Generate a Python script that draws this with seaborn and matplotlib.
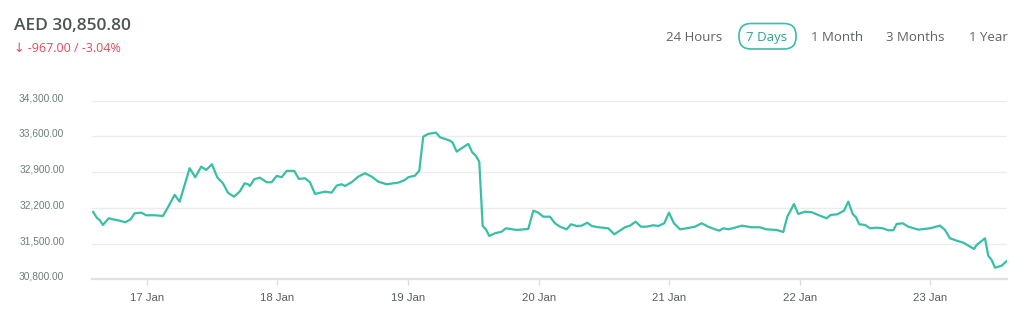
import matplotlib
matplotlib.use("Agg")
import matplotlib.pyplot as plt
import matplotlib.dates as mdates
import matplotlib.transforms as mtransforms
from matplotlib.patches import FancyBboxPatch
import numpy as np
import pandas as pd
import seaborn as sns

# ---- data: hours since 17 Jan 00:00 and price (AED) ----
hours = [
    -9.93, -9.14, -8.70, -8.09, -7.04, -6.25, -5.02, -3.99, -3.00, -2.26,
    -1.05, -0.13, 1.42, 2.94, 3.86, 5.09, 6.01, 6.93, 7.85, 8.88,
    9.98, 10.90, 11.95, 12.92, 13.97, 14.89, 15.99, 17.04, 17.96, 18.57,
    18.94, 19.73, 20.77, 22.01, 22.92, 23.84, 24.76, 25.68, 27.08, 27.94,
    29.05, 29.97, 30.89, 32.72, 33.95, 34.87, 35.79, 36.40, 37.63, 38.85,
    40.08, 41.31, 42.52, 44.07, 46.20, 47.43, 48.04, 49.27, 50.06, 50.79,
    51.71, 53.13, 53.87, 55.70, 56.20, 56.94, 57.85, 59.07, 59.80, 60.48,
    61.09, 61.72, 62.32, 62.93, 63.98, 65.21, 66.00, 67.96, 70.10, 71.02,
    71.94, 72.86, 74.09, 75.01, 75.93, 77.16, 77.95, 79.00, 79.92, 80.94,
    81.75, 82.97, 84.81, 85.91, 86.64, 87.88, 88.79, 89.84, 90.82, 91.86,
    93.08, 94.00, 95.10, 95.96, 96.88, 97.99, 99.22, 100.74, 101.98, 103.19,
    104.42, 105.21, 105.95, 106.87, 108.10, 109.33, 111.17, 112.69, 113.80, 115.76,
    116.98, 117.71, 118.21, 118.94, 119.73, 120.97, 122.20, 123.41, 124.95, 125.69,
    126.90, 128.14, 128.93, 129.74, 130.34, 130.95, 132.00, 132.92, 134.15, 135.25,
    136.28, 137.20, 137.82, 138.93, 139.96, 141.80, 143.95, 145.79, 146.70, 147.62,
    148.85, 150.07, 150.99, 152.04, 152.53, 154.06, 154.66, 155.29, 155.90, 157.13,
    158.05,
]
prices = [
    32125, 31996, 31963, 31865, 31996, 31976, 31949, 31918, 31976, 32094,
    32106, 32055, 32055, 32041, 32212, 32453, 32322, 32649, 32977, 32800,
    33008, 32943, 33055, 32800, 32682, 32498, 32420, 32518, 32682, 32663,
    32629, 32761, 32792, 32702, 32702, 32826, 32800, 32924, 32924, 32767,
    32780, 32702, 32473, 32518, 32498, 32635, 32663, 32629, 32702, 32812,
    32878, 32812, 32714, 32663, 32694, 32747, 32800, 32831, 32929, 33596,
    33649, 33675, 33584, 33518, 33478, 33302, 33369, 33453, 33290, 33218,
    33106, 31845, 31780, 31649, 31702, 31733, 31800, 31767, 31786, 32145,
    32106, 32027, 32027, 31898, 31831, 31780, 31878, 31845, 31851, 31910,
    31845, 31820, 31800, 31682, 31733, 31820, 31851, 31929, 31831, 31831,
    31859, 31845, 31898, 32106, 31898, 31780, 31800, 31831, 31898, 31831,
    31780, 31753, 31800, 31780, 31812, 31851, 31820, 31820, 31780, 31767,
    31727, 32027, 32125, 32277, 32080, 32125, 32114, 32061, 31996, 32061,
    32074, 32145, 32322, 32080, 32016, 31878, 31865, 31800, 31812, 31800,
    31761, 31761, 31884, 31898, 31831, 31773, 31800, 31851, 31767, 31604,
    31557, 31518, 31459, 31394, 31473, 31604, 31263, 31178, 31027, 31067,
    31159,
]
y_ticks = [30800, 31500, 32200, 32900, 33600, 34300]
ranges = ["24 Hours", "7 Days", "1 Month", "3 Months", "1 Year"]
title_price = "AED 30,850.80"
change_text = "\u2193 -967.00 / -3.04%"

base = pd.Timestamp("2023-01-17 00:00")
df = pd.DataFrame({
    "time": base + pd.to_timedelta(hours, unit="h"),
    "price": prices,
})

sns.set_theme(style="white")
plt.rcParams["font.family"] = ["Liberation Sans", "DejaVu Sans"]

W, H = 1024, 330
fig = plt.figure(figsize=(W / 100, H / 100), dpi=100)
ax = fig.add_axes([92 / W, 50.7 / H, (1006.7 - 92) / W, (229.3 - 50.7) / H])

line_color = "#38BFA6"
sns.lineplot(data=df, x="time", y="price", ax=ax, color=line_color, linewidth=1.6)

ax.set_xlim(base + pd.Timedelta(hours=-10.1), base + pd.Timedelta(hours=158.05))
ax.set_ylim(y_ticks[0], y_ticks[-1])
ax.set_yticks(y_ticks)
ax.set_yticklabels([f"{v:,.2f}" for v in y_ticks])
ax.yaxis.grid(True, color="#ececec", linewidth=1.0)
ax.xaxis.grid(False)

ax.xaxis.set_major_locator(mdates.DayLocator())
ax.xaxis.set_major_formatter(mdates.DateFormatter("%-d %b"))

for s in ["top", "right", "left"]:
    ax.spines[s].set_visible(False)
ax.spines["bottom"].set_color("#e2e2e2")
ax.spines["bottom"].set_linewidth(1.6)

ax.tick_params(axis="x", which="major", length=4, width=1, color="#dddddd",
               pad=6, labelsize=8.2, labelcolor="#56615f", bottom=True)
ax.tick_params(axis="y", length=0, pad=20, labelsize=7.3, labelcolor="#6a7f7b")
shift = mtransforms.ScaledTranslation(0, 2.5 / 72, fig.dpi_scale_trans)
for lbl in ax.get_yticklabels():
    lbl.set_transform(lbl.get_transform() + shift)
ax.set_xlabel("")
ax.set_ylabel("")

# header texts
fig.text(14 / W, 1 - 26 / H, title_price, fontsize=12.5, fontweight="semibold",
         color="#4b5553", family=["Open Sans", "DejaVu Sans"], va="center", ha="left")
fig.text(14 / W, 1 - 48 / H, change_text, fontsize=9, color="#e8485a",
         family=["Open Sans", "DejaVu Sans"], va="center", ha="left")

centers = [694.3, 767, 836.7, 915.7, 988]
for label, cx in zip(ranges, centers):
    active = label == "7 Days"
    fig.text(cx / W, 1 - 37.5 / H, label, fontsize=9.5,
             color="#2aa58e" if active else "#5c6462",
             family=["Open Sans", "DejaVu Sans"], va="center", ha="center")
    if active:
        box = FancyBboxPatch((739, H - 49), 57, 25.5,
                             boxstyle="round,pad=0,rounding_size=12",
                             transform=mtransforms.IdentityTransform(),
                             facecolor="none", edgecolor="#38BFA6", linewidth=1.2)
        fig.patches.append(box)

fig.savefig("out.png", dpi=100, facecolor="white")
